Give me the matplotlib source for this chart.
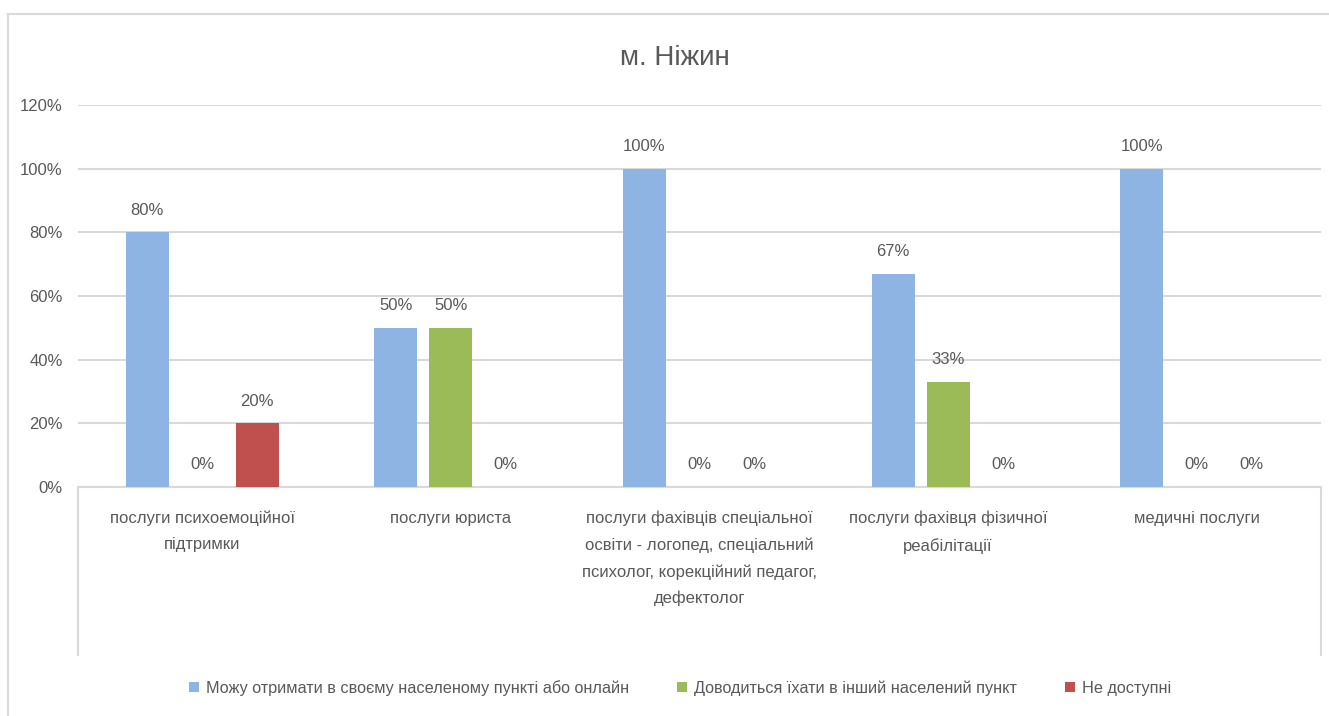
import numpy as np
import matplotlib.pyplot as plt
import matplotlib as mpl
from matplotlib.lines import Line2D
from matplotlib.patches import Patch

mpl.rcParams['figure.dpi'] = 100
plt.rcParams['font.family'] = ['Liberation Sans', 'DejaVu Sans']

title = 'м. Ніжин'
categories = [
    'послуги психоемоційної\nпідтримки',
    'послуги юриста',
    'послуги фахівців спеціальної\nосвіти - логопед, спеціальний\nпсихолог, корекційний педагог,\nдефектолог',
    'послуги фахівця фізичної\nреабілітації',
    'медичні послуги',
]
series_names = [
    'Можу отримати в своєму населеному пункті або онлайн',
    'Доводиться їхати в інший населений пункт',
    'Не доступні',
]
local_online = [80, 50, 100, 67, 100]
travel = [0, 50, 0, 33, 0]
unavailable = [20, 0, 0, 0, 0]
yticks = [0, 20, 40, 60, 80, 100, 120]

colors = ['#8EB4E3', '#9BBB59', '#C0504D']
text_col = '#595959'
grid_col = '#D9D9D9'
fs = 12

fig = plt.figure(figsize=(13.29, 7.16))
ax = fig.add_axes([78 / 1329, 1 - 487 / 716, (1321 - 78) / 1329, (487 - 105) / 716])

x = np.arange(len(categories))
width = 0.173
step = 0.221
for i, vals in enumerate([local_online, travel, unavailable]):
    pos = x + (i - 1) * step
    ax.bar(pos, vals, width, color=colors[i], zorder=3)
    for px, v in zip(pos, vals):
        ax.annotate(f'{v}%', (px, v), xytext=(0, 16), textcoords='offset points',
                    ha='center', va='center', fontsize=fs, color=text_col)

ax.set_xlim(-0.5, len(categories) - 0.5)
ax.set_ylim(0, 120)
ax.set_yticks(yticks)
ax.set_yticklabels([f'{t}%' for t in yticks], fontsize=fs, color=text_col)
ax.yaxis.grid(True, color=grid_col, linewidth=1.5, zorder=0)
ax.set_xticks(x)
ax.set_xticklabels(categories, fontsize=fs, color=text_col, linespacing=1.9, va='top')
ax.tick_params(axis='both', length=0)
ax.tick_params(axis='x', pad=17)
ax.tick_params(axis='y', pad=11)
for s in ['top', 'right', 'left']:
    ax.spines[s].set_visible(False)
ax.spines['bottom'].set_color(grid_col)
ax.spines['bottom'].set_linewidth(1.5)

# lines framing the category area
for xp in [78, 1321]:
    fig.add_artist(Line2D([xp / 1329, xp / 1329], [1 - 487 / 716, 1 - 655 / 716],
                          color=grid_col, linewidth=1.5))
# outer chart frame
fig.add_artist(Line2D([8 / 1329, 8 / 1329], [0, 1 - 14 / 716], color=grid_col, linewidth=1.5))
fig.add_artist(Line2D([8 / 1329, 1], [1 - 14 / 716, 1 - 14 / 716], color=grid_col, linewidth=1.5))

fig.text(675 / 1329, 1 - 58 / 716, title, ha='center', va='center', fontsize=20, color=text_col)

handles = [Patch(facecolor=c, edgecolor='none') for c in colors]
fig.legend(handles, series_names, loc='center', bbox_to_anchor=(680 / 1329, 1 - 688 / 716),
           ncol=3, frameon=False, fontsize=11.7, labelcolor=text_col,
           handlelength=0.6, handleheight=0.6, handletextpad=0.4, columnspacing=3.0)

fig.savefig('out.png')
